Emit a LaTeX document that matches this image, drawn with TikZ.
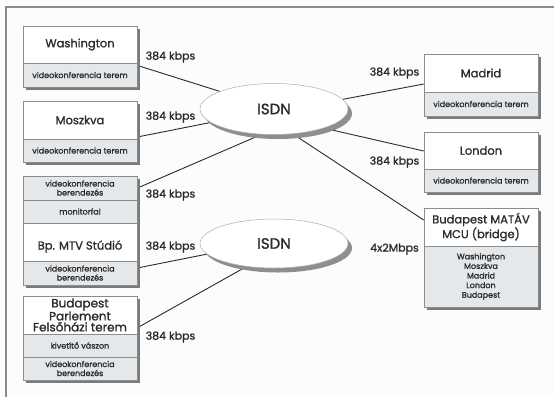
\documentclass[tikz,border=0pt]{standalone}
\usepackage{fontspec}
\setmainfont{Poppins}
\newfontfamily\medfont{Poppins}[FakeBold=1.2]
\usetikzlibrary{shapes.geometric,shadows,backgrounds}
\definecolor{ink}{HTML}{2B2B2B}
\definecolor{boxline}{HTML}{8C8C8C}
\definecolor{cellgray}{HTML}{E4E8EB}
\definecolor{shadowgray}{HTML}{7A7A7A}
\definecolor{paper}{HTML}{FCFCFC}
\definecolor{framegray}{HTML}{8A8A8A}

\begin{document}
\begin{tikzpicture}[x=1pt,y=-1pt,
  outline/.style={rectangle, draw=boxline, line width=0.6pt, fill=white,
    minimum width=114pt, inner sep=0pt,
    drop shadow={shadow xshift=3pt, shadow yshift=-3pt, fill=shadowgray, opacity=1}},
  cell/.style={rectangle, draw=boxline, line width=0.6pt, minimum width=114pt,
    inner sep=0pt, align=center, text=ink},
  headcell/.style={cell, fill=white, font=\medfont\fontsize{11.5}{12}\selectfont},
  subcell/.style={cell, fill=cellgray, font=\medfont\fontsize{8}{9}\selectfont},
  headtext/.style={inner sep=0pt, align=center, text=ink, font=\medfont\fontsize{11.5}{12}\selectfont},
  rate/.style={font=\medfont\fontsize{11}{12}\selectfont, text=ink, inner sep=0pt},
  net/.style={ellipse, draw=boxline!70, line width=0.5pt, fill=white,
    minimum width=148pt, minimum height=51pt, inner sep=0pt,
    font=\medfont\fontsize{15}{16}\selectfont, text=ink,
    drop shadow={shadow xshift=4pt, shadow yshift=-4.5pt, fill=shadowgray!85, opacity=1}},
  link/.style={draw=ink, line width=0.9pt},
]
\useasboundingbox (0,0) rectangle (554,397);

% ---- left column: sites ----
\node[outline, minimum height=61pt] (wash) at (80,56.5) {};
\node[headcell, minimum height=37pt] (wash-t) at (80,44.5) {Washington};
\node[subcell, minimum height=24pt] (wash-s) at (80,75) {videokonferencia terem};

\node[outline, minimum height=61pt] (mosz) at (80,131.5) {};
\node[headcell, minimum height=38pt] (mosz-t) at (80,120) {Moszkva};
\node[subcell, minimum height=23pt] (mosz-s) at (80,150.5) {videokonferencia terem};

\node[outline, minimum height=109pt] (mtv) at (80,230.5) {};
\node[subcell, minimum height=24pt] (mtv-a) at (80,188) {videokonferencia\\berendezés};
\node[subcell, minimum height=23pt] (mtv-b) at (80,211.5) {monitorfal};
\node[headcell, minimum height=38pt] (mtv-c) at (80,242) {};
\node[headtext] (mtv-name) at (80,246.5) {Bp. MTV Stúdió};
\node[subcell, minimum height=24pt] (mtv-d) at (80,273) {videokonferencia\\berendezés};

\node[outline, minimum height=84pt] (parl) at (80,338) {};
\node[headcell, minimum height=38pt, font=\medfont\fontsize{12}{11}\selectfont] (parl-t) at (80,315)
  {Budapest\\Parlement\\Felsőházi terem};
\node[subcell, minimum height=23pt] (parl-b) at (80,345.5) {kivetítő vászon};
\node[subcell, minimum height=23pt] (parl-c) at (80,368.5) {videokonferencia\\berendezés};

% ---- right column: sites and bridge ----
\node[outline, minimum height=62pt] (madr) at (481,85) {};
\node[headcell, minimum height=38pt] (madr-t) at (481,73) {Madrid};
\node[subcell, minimum height=24pt] (madr-s) at (481,104) {videokonferencia terem};

\node[outline, minimum height=60pt] (lond) at (481,162) {};
\node[headcell, minimum height=37pt] (lond-t) at (481,150.5) {London};
\node[subcell, minimum height=23pt] (lond-s) at (481,180.5) {videokonferencia terem};

\node[outline, minimum height=99pt] (mcu) at (481,257.5) {};
\node[headcell, minimum height=38pt, font=\medfont\fontsize{11.5}{11.6}\selectfont] (mcu-t) at (481,227)
  {Budapest MATÁV\\MCU (bridge)};
\node[subcell, minimum height=61pt, font=\medfont\fontsize{8}{9.6}\selectfont] (mcu-s) at (481,276.5)
  {Washington\\Moszkva\\Madrid\\London\\Budapest};

% ---- ISDN clouds ----
\node[net] (isdnA) at (274,109) {ISDN};
\node[net, minimum height=49pt] (isdnB) at (274,243.5) {ISDN};

% ---- line rates ----
\node[rate] (r-wash) at (170.5,57) {384 kbps};
\node[rate] (r-mosz) at (170.5,117) {384 kbps};
\node[rate] (r-mtv1) at (170.5,195) {384 kbps};
\node[rate] (r-mtv2) at (170.5,247) {384 kbps};
\node[rate] (r-parl) at (170.5,337) {384 kbps};
\node[rate] (r-madr) at (394.5,73) {384 kbps};
\node[rate] (r-lond) at (394.5,162) {384 kbps};
\node[rate] (r-mcu)  at (394.5,249) {4x2Mbps};

% ---- connections, page and frame underneath ----
\begin{pgfonlayer}{background}
  \fill[paper] (0,0) rectangle (554,397);
  \draw[framegray, line width=1.2pt] (6,397) -- (6,7) -- (554,7);
  \draw[link] ([yshift=-8.9pt]wash.east) -- (isdnA.162);
  \draw[link] ([yshift=-5.5pt]mosz.east) -- (isdnA.192);
  \draw[link] ([yshift=42.4pt]mtv.east) -- (isdnA.244);
  \draw[link] ([yshift=1pt]madr.west) -- (isdnA.8);
  \draw[link] ([yshift=11pt]lond.west) -- (isdnA.339);
  \draw[link] ([yshift=37.5pt]mcu.west) -- (isdnA.307);
  \draw[link] ([yshift=-37.5pt]mtv.east) -- (isdnB.189);
  \draw[link] ([yshift=10.2pt]parl.east) -- (isdnB.220);
\end{pgfonlayer}
\end{tikzpicture}
\end{document}
